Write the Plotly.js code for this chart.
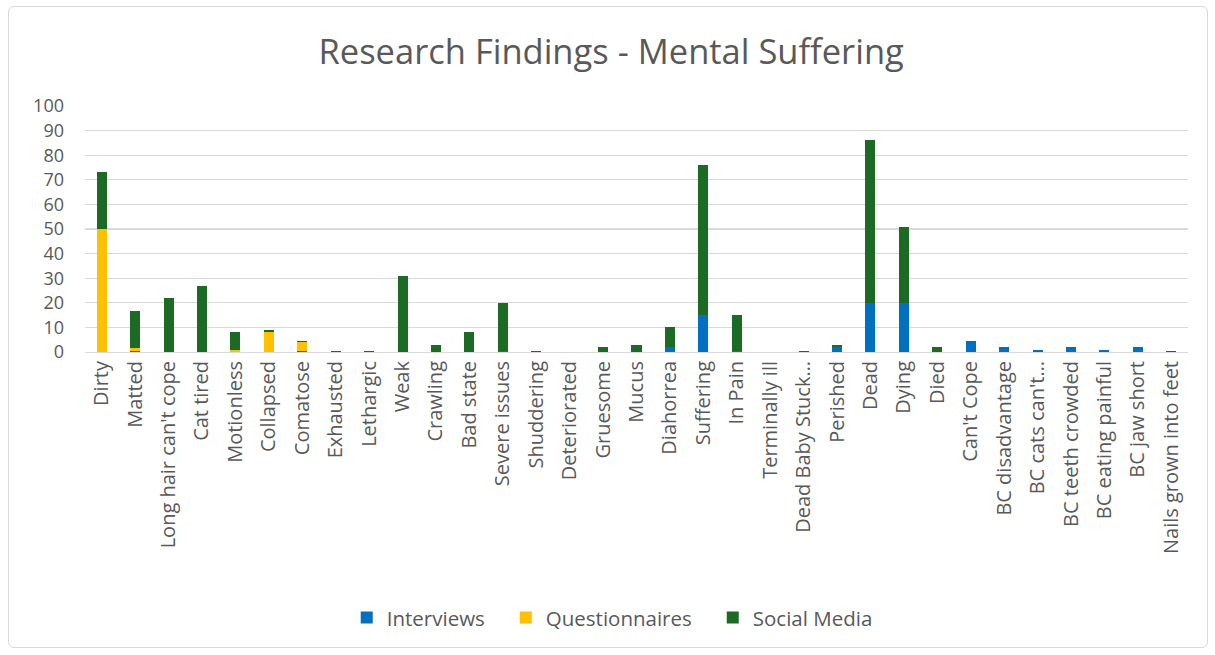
<!DOCTYPE html>
<html>
<head>
<meta charset="utf-8">
<script src="https://cdn.plot.ly/plotly-3.0.1.min.js"></script>
<style>
  html, body { margin: 0; padding: 0; background: #fff; }
  #frame { position: absolute; left: 8px; top: 6px; width: 1198px; height: 640px; border: 1px solid #d9d9d9; border-radius: 6px; }
  #chart { position: absolute; left: 0; top: 0; width: 1215px; height: 655px; }
</style>
</head>
<body>
<div id="frame"></div>
<div id="chart"></div>
<script>
const categories = ["Dirty","Matted","Long hair can't cope","Cat tired","Motionless","Collapsed","Comatose","Exhausted","Lethargic","Weak","Crawling","Bad state","Severe issues","Shuddering","Deteriorated","Gruesome","Mucus","Diahorrea","Suffering","In Pain","Terminally ill","Dead Baby Stuck\u2026","Perished","Dead","Dying","Died","Can't Cope","BC disadvantage","BC cats can't\u2026","BC teeth crowded","BC eating painful","BC jaw short","Nails grown into feet"];
const seriesNames = ["Interviews", "Questionnaires", "Social Media"];
const interviews     = [0,0.5,0,0,0,0,0.5,0,0,0,0,0,0.5,0,0,0,0,2,15,0.5,0,0,2,20,20,0,4.5,2,1,2,1,2,0];
const questionnaires = [50,1,0,0,1,8,3.5,0,0,0,0,0,0,0,0,0,0,0,0,0,0,0,0,0,0,0,0,0,0,0,0,0,0];
const socialMedia    = [23,15,22,27,7,1,0.5,0.5,0.5,31,3,8,19.5,0.5,0,2,3,8,61,14.5,0,0.5,1,66,31,2,0,0,0,0,0,0,0.5];

const textColor = '#595959';
const font = {family: 'Open Sans, Liberation Sans, Arial, sans-serif', color: textColor};
const pad = '\u00a0\u00a0\u00a0';

const traces = [
  {name: seriesNames[0], y: interviews, color: '#0070C0', pad: pad},
  {name: seriesNames[1], y: questionnaires, color: '#FFC000', pad: pad},
  {name: seriesNames[2], y: socialMedia, color: '#1B6B25', pad: ''}
].map(s => ({
  type: 'bar', x: categories, y: s.y, name: s.name + s.pad,
  marker: {color: s.color, line: {width: 0}},
  hoverinfo: 'x+y+name'
}));

const layout = {
  width: 1215, height: 655,
  paper_bgcolor: 'rgba(0,0,0,0)', plot_bgcolor: 'rgba(0,0,0,0)',
  barmode: 'stack', bargap: 0.7,
  margin: {l: 85, r: 27, t: 106, b: 303},
  font: font,
  title: {text: 'Research Findings - Mental Suffering', font: {family: font.family, size: 34.5, color: textColor}, x: 0.503, xanchor: 'center', y: 0.92, yanchor: 'middle'},
  xaxis: {
    type: 'category', tickangle: -90, tickfont: {size: 20, color: textColor},
    showgrid: false, showline: true, linecolor: '#d9d9d9', linewidth: 1, ticks: '', automargin: false
  },
  yaxis: {
    range: [0, 100], dtick: 10, tickfont: {size: 18, color: textColor}, ticklabelstandoff: 20,
    showgrid: true, gridcolor: '#d9d9d9', gridwidth: 1.3, zeroline: false, showline: false, ticks: '', ticklen: 0, automargin: false
  },
  legend: {orientation: 'h', x: 0.478, xanchor: 'center', y: -1.08, yanchor: 'middle', font: {size: 20.5, color: textColor}, itemwidth: 30, traceorder: 'normal'},
  showlegend: true
};

Plotly.newPlot('chart', traces, layout, {displayModeBar: false, staticPlot: true});
</script>
</body>
</html>
